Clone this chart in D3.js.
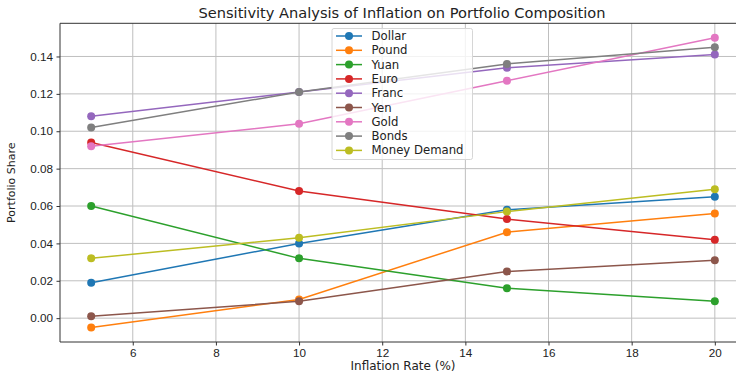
<!DOCTYPE html>
<html>
<head>
<meta charset="utf-8">
<script src="https://cdn.jsdelivr.net/npm/d3@7"></script>
<style>
  body { margin: 0; background: #fff; }
  svg { font-family: "DejaVu Sans", sans-serif; }
</style>
</head>
<body>
<svg id="chart" width="736" height="375"></svg>
<script>
var rates = [5, 10, 15, 20];
var xTicks = [6, 8, 10, 12, 14, 16, 18, 20];
var yTicks = [0.00, 0.02, 0.04, 0.06, 0.08, 0.10, 0.12, 0.14];

var dollar = [0.019, 0.040, 0.058, 0.065];
var pound = [-0.005, 0.010, 0.046, 0.056];
var yuan = [0.060, 0.032, 0.016, 0.009];
var euro = [0.094, 0.068, 0.053, 0.042];
var franc = [0.108, 0.121, 0.134, 0.141];
var yen = [0.001, 0.009, 0.025, 0.031];
var gold = [0.092, 0.104, 0.127, 0.150];
var bonds = [0.102, 0.121, 0.136, 0.145];
var moneyDemand = [0.032, 0.043, 0.057, 0.069];

var series = [
    {name: 'Dollar', values: dollar, color: '#1f77b4'},
    {name: 'Pound', values: pound, color: '#ff7f0e'},
    {name: 'Yuan', values: yuan, color: '#2ca02c'},
    {name: 'Euro', values: euro, color: '#d62728'},
    {name: 'Franc', values: franc, color: '#9467bd'},
    {name: 'Yen', values: yen, color: '#8c564b'},
    {name: 'Gold', values: gold, color: '#e377c2'},
    {name: 'Bonds', values: bonds, color: '#7f7f7f'},
    {name: 'Money Demand', values: moneyDemand, color: '#bcbd22'}
];

var margin = {top: 23.3, left: 60, bottom: 342};
var svg = d3.select('#chart');

var x = d3.scaleLinear().domain([4.25, 20.75]).range([margin.left, 746]);
var y = d3.scaleLinear().domain([-0.01275, 0.15775]).range([margin.bottom, margin.top]);

// grid
var grid = svg.append('g').attr('stroke', '#b0b0b0').attr('stroke-width', 1).attr('opacity', 0.8);
xTicks.forEach(t => {
    grid.append('line').attr('x1', x(t)).attr('x2', x(t))
        .attr('y1', margin.top).attr('y2', margin.bottom);
});
yTicks.forEach(t => {
    grid.append('line').attr('y1', y(t)).attr('y2', y(t))
        .attr('x1', margin.left).attr('x2', 746);
});

// lines and points
var line = d3.line()
    .x((d, i) => x(rates[i]))
    .y(d => y(d));

series.forEach(s => {
    svg.append('path')
        .attr('d', line(s.values))
        .attr('fill', 'none')
        .attr('stroke', s.color)
        .attr('stroke-width', 1.5);
    svg.append('g').selectAll('circle')
        .data(s.values)
        .enter().append('circle')
        .attr('cx', (d, i) => x(rates[i]))
        .attr('cy', d => y(d))
        .attr('r', 4)
        .attr('fill', s.color);
});

// axes
var xAxis = d3.axisBottom(x).tickValues(xTicks).tickSize(3.5).tickPadding(3.5)
    .tickFormat(d3.format('d'));
var yAxis = d3.axisLeft(y).tickValues(yTicks).tickSize(3.5).tickPadding(3.5)
    .tickFormat(d3.format('.2f'));

var gX = svg.append('g').attr('transform', 'translate(0,' + margin.bottom + ')').call(xAxis);
var gY = svg.append('g').attr('transform', 'translate(' + margin.left + ',0)').call(yAxis);
[gX, gY].forEach(g => {
    g.select('.domain').remove();
    g.selectAll('text').attr('font-size', 11.7).attr('fill', '#222');
    g.selectAll('line').attr('stroke', '#333');
});

// spines
svg.append('line').attr('x1', margin.left).attr('x2', margin.left)
    .attr('y1', margin.top).attr('y2', margin.bottom).attr('stroke', '#333');
svg.append('line').attr('x1', margin.left).attr('x2', 746)
    .attr('y1', margin.bottom).attr('y2', margin.bottom).attr('stroke', '#333');
svg.append('line').attr('x1', margin.left).attr('x2', 746)
    .attr('y1', margin.top).attr('y2', margin.top).attr('stroke', '#333');

// labels
svg.append('text')
    .attr('x', 402).attr('y', 18)
    .attr('text-anchor', 'middle')
    .attr('font-size', 14.6)
    .attr('fill', '#222')
    .text('Sensitivity Analysis of Inflation on Portfolio Composition');

svg.append('text')
    .attr('x', 403).attr('y', 370)
    .attr('text-anchor', 'middle')
    .attr('font-size', 12)
    .attr('fill', '#222')
    .text('Inflation Rate (%)');

svg.append('text')
    .attr('transform', 'translate(15,' + ((margin.top + margin.bottom) / 2) + ') rotate(-90)')
    .attr('text-anchor', 'middle')
    .attr('font-size', 11)
    .attr('fill', '#222')
    .text('Portfolio Share');

// legend
var legend = svg.append('g').attr('transform', 'translate(332,28.5)');
legend.append('rect')
    .attr('width', 140.5).attr('height', 131)
    .attr('rx', 2)
    .attr('fill', 'white').attr('fill-opacity', 0.8)
    .attr('stroke', '#d6d6d6');

series.forEach((s, i) => {
    var row = legend.append('g').attr('transform', 'translate(0,' + (7.5 + i * 14.3) + ')');
    row.append('line').attr('x1', 4).attr('x2', 30)
        .attr('stroke', s.color).attr('stroke-width', 1.5);
    row.append('circle').attr('cx', 17).attr('r', 4).attr('fill', s.color);
    row.append('text').attr('x', 39.5).attr('y', 4)
        .attr('font-size', 11.7).attr('fill', '#222')
        .text(s.name);
});
</script>
</body>
</html>
